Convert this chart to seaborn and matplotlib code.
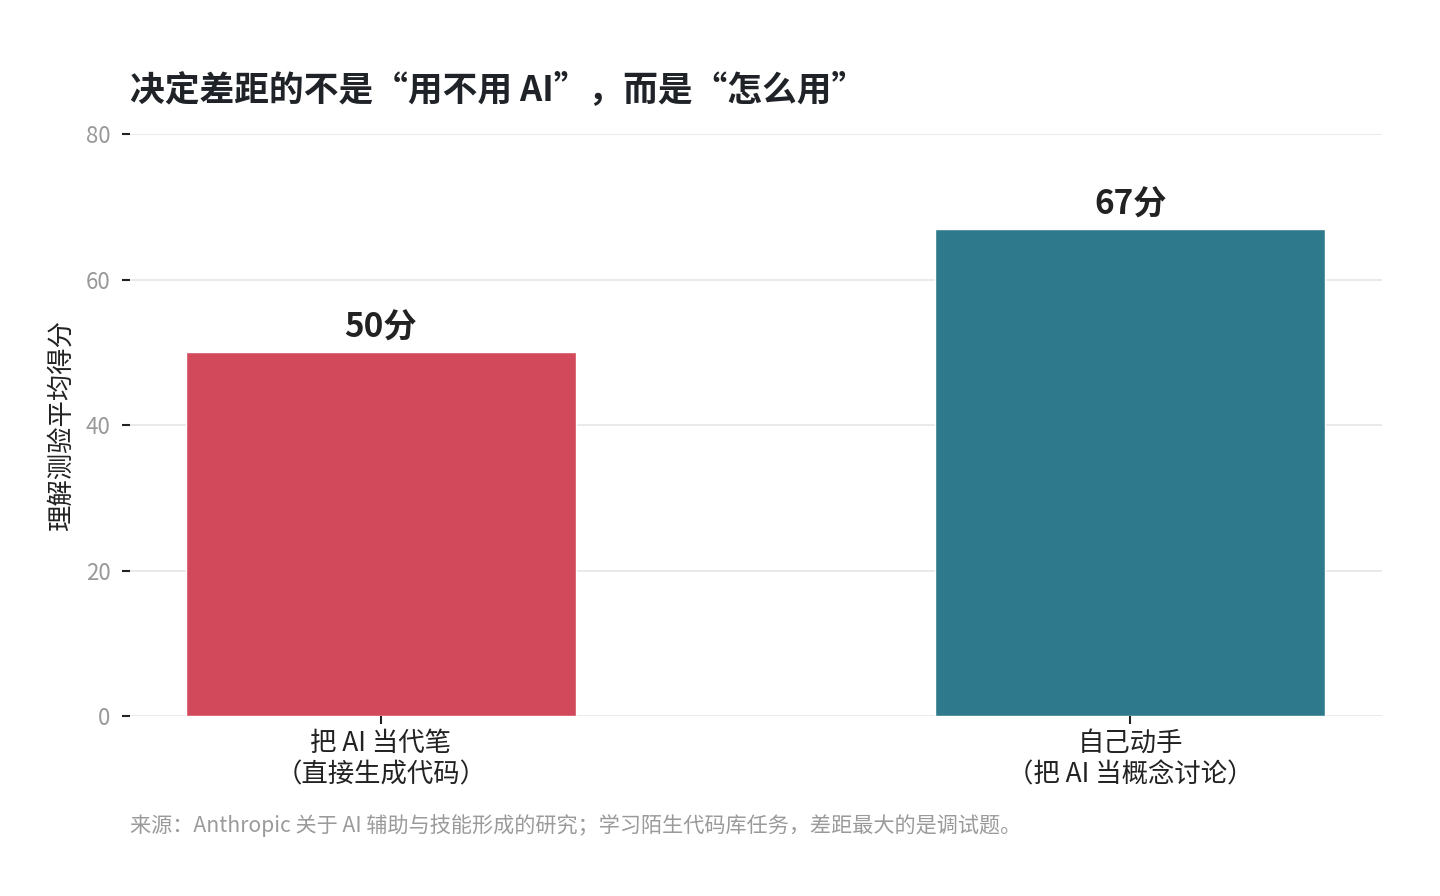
import matplotlib
matplotlib.use("Agg")
import matplotlib.pyplot as plt
import pandas as pd
import seaborn as sns

# data
categories = ["把 AI 当代笔\n（直接生成代码）", "自己动手\n（把 AI 当概念讨论）"]
scores = [50, 67]
bar_labels = ["50分", "67分"]
bar_colors = ["#D1495B", "#2E7A8C"]
y_ticks = [0, 20, 40, 60, 80]

TITLE = "决定差距的不是“用不用 AI”，而是“怎么用”"
YLABEL = "理解测验平均得分"
SOURCE = "来源：Anthropic 关于 AI 辅助与技能形成的研究；学习陌生代码库任务，差距最大的是调试题。"

sns.set_theme(style="whitegrid")
plt.rcParams["font.family"] = ["Noto Sans CJK SC", "DejaVu Sans"]

df = pd.DataFrame({"group": categories, "score": scores})

fig = plt.figure(figsize=(14.4, 8.96), dpi=100)
ax = fig.add_axes([130 / 1440, 1 - 716 / 896, (1382 - 130) / 1440, (716 - 134) / 896])

sns.barplot(data=df, x="group", y="score", hue="group", palette=bar_colors,
            width=0.52, legend=False, ax=ax, saturation=1)

for i, (v, lab) in enumerate(zip(scores, bar_labels)):
    ax.text(i, v + 1.0, lab, ha="center", va="bottom", fontsize=24,
            fontweight="bold", color="#222222")

ax.set_ylim(0, 80)
ax.set_xlim(-0.335, 1.336)
ax.set_yticks(y_ticks)
ax.grid(axis="y", color="#E6E6E6", lw=1.2)
ax.grid(axis="x", visible=False)
for s in ax.spines.values():
    s.set_visible(False)
ax.set_axisbelow(True)

ax.tick_params(axis="y", length=6, width=1.5, color="#222222", pad=8,
               labelsize=16, labelcolor="#999999", left=True)
ax.tick_params(axis="x", length=6, width=1.5, color="#222222", pad=4,
               labelsize=19, labelcolor="#222222", bottom=True)
ax.set_xlabel("")
ax.set_ylabel(YLABEL, fontsize=19, color="#222222", labelpad=8)

fig.text(130 / 1440, 1 - 90 / 896, TITLE, fontsize=25, fontweight="bold",
         color="#1F2328", ha="left", va="center")
fig.text(130 / 1440, 1 - 826 / 896, SOURCE, fontsize=15.2, color="#9A9A9A",
         ha="left", va="center")

fig.savefig("out.png", dpi=100)
